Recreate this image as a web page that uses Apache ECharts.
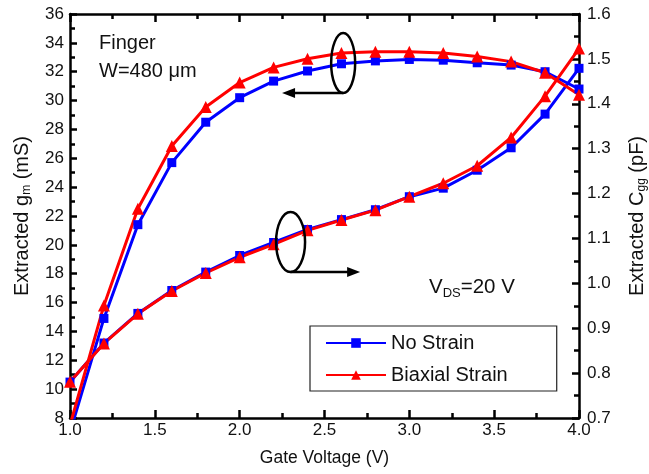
<!DOCTYPE html>
<html>
<head>
<meta charset="utf-8">
<script src="https://cdn.jsdelivr.net/npm/echarts@6/dist/echarts.min.js"></script>
<style>
  html, body { margin: 0; padding: 0; background: #fff; }
  #chart { width: 649px; height: 474px; }
</style>
</head>
<body>
<div id="chart"></div>
<script>
// gate voltage sweep
const gateVoltage = [1.0, 1.2, 1.4, 1.6, 1.8, 2.0, 2.2, 2.4, 2.6, 2.8, 3.0, 3.2, 3.4, 3.6, 3.8, 4.0];

// extracted gm (mS), left axis
const gmNoStrain = [7.0, 14.9, 21.4, 25.7, 28.5, 30.2, 31.35, 32.05, 32.55, 32.75, 32.85, 32.8, 32.62, 32.46, 32.0, 30.8];
const gmBiaxial = [7.5, 15.8, 22.5, 26.85, 29.55, 31.25, 32.3, 32.9, 33.3, 33.38, 33.38, 33.3, 33.05, 32.7, 31.93, 30.4];

// extracted Cgg (pF), right axis
const cggNoStrain = [0.78, 0.867, 0.933, 0.984, 1.025, 1.062, 1.091, 1.12, 1.142, 1.164, 1.193, 1.212, 1.252, 1.302, 1.377, 1.479];
const cggBiaxial = [0.781, 0.866, 0.932, 0.983, 1.023, 1.058, 1.087, 1.118, 1.141, 1.163, 1.193, 1.223, 1.262, 1.325, 1.417, 1.523];

const seriesNames = ['No Strain', 'Biaxial Strain'];

const FONT = 'Liberation Sans, Arial, sans-serif';
const BLUE = '#0000ff';
const RED = '#ff0000';

const chart = echarts.init(document.getElementById('chart'));

function pairs(ys) {
  return gateVoltage.map((x, i) => [x, ys[i]]);
}

function lineSeries(name, ys, yIndex, color, symbol, size) {
  return {
    name: name,
    type: 'line',
    yAxisIndex: yIndex,
    data: pairs(ys),
    symbol: symbol,
    symbolSize: size,
    showSymbol: true,
    lineStyle: { color: color, width: 3 },
    itemStyle: { color: color },
    emphasis: { disabled: true },
    animation: false
  };
}

const label = { fontFamily: FONT, fontSize: 17, color: '#111' };
const tick = { inside: true, length: 7, lineStyle: { width: 2.5, color: '#000' } };
const minor = { show: true, splitNumber: 2, length: 5, lineStyle: { width: 2.5, color: '#000' } };
const axisLine = { show: true, lineStyle: { color: '#000', width: 2.5 } };
const nameStyle = {
  rich: {
    s: { fontFamily: FONT, fontSize: 20, color: '#111' },
    sub: { fontFamily: FONT, fontSize: 12, color: '#111', padding: [0, 0, -9, 0] }
  },
  fontFamily: FONT, fontSize: 20, color: '#111'
};

chart.setOption({
  animation: false,
  grid: { left: 70, right: 70, top: 14, bottom: 56, containLabel: false, outerBoundsMode: 'none' },
  legend: {
    data: seriesNames,
    orient: 'vertical',
    left: 310,
    top: 326,
    borderColor: '#222',
    borderWidth: 1.2,
    padding: [7, 49, 6, 15],
    itemGap: 12,
    itemWidth: 60,
    itemHeight: 12,
    textStyle: { fontFamily: FONT, fontSize: 20, color: '#111' }
  },
  xAxis: [{
    type: 'value',
    min: 1, max: 4, interval: 0.5,
    name: 'Gate Voltage (V)',
    nameLocation: 'middle',
    nameGap: 31,
    nameTextStyle: { fontFamily: FONT, fontSize: 17.5, color: '#111' },
    axisLine: axisLine,
    axisTick: Object.assign({}, tick, { length: 8 }),
    minorTick: minor,
    axisLabel: Object.assign({ margin: 4, formatter: v => v.toFixed(1) }, label),
    splitLine: { show: false }
  }, {
    type: 'value',
    position: 'top',
    min: 1, max: 4, interval: 0.5,
    axisLine: axisLine,
    axisTick: Object.assign({}, tick, { length: 8 }),
    minorTick: minor,
    axisLabel: { show: false },
    splitLine: { show: false }
  }],
  yAxis: [{
    type: 'value',
    min: 8, max: 36, interval: 2,
    name: '{s|Extracted g}{sub|m}{s| (mS)}',
    nameLocation: 'middle',
    nameGap: 38,
    nameRotate: 90,
    nameTextStyle: nameStyle,
    axisLine: axisLine,
    axisTick: tick,
    minorTick: minor,
    axisLabel: Object.assign({ margin: 6 }, label),
    splitLine: { show: false }
  }, {
    type: 'value',
    position: 'right',
    min: 0.7, max: 1.6, interval: 0.1,
    name: '{s|Extracted C}{sub|gg}{s| (pF)}',
    nameLocation: 'middle',
    nameGap: 48,
    nameRotate: 90,
    nameTextStyle: nameStyle,
    axisLine: axisLine,
    axisTick: tick,
    minorTick: minor,
    axisLabel: Object.assign({ margin: 8, formatter: v => v.toFixed(1) }, label),
    splitLine: { show: false }
  }],
  series: [
    lineSeries(seriesNames[0], gmNoStrain, 0, BLUE, 'rect', 9),
    lineSeries(seriesNames[0], cggNoStrain, 1, BLUE, 'rect', 9),
    lineSeries(seriesNames[1], gmBiaxial, 0, RED, 'triangle', 12),
    lineSeries(seriesNames[1], cggBiaxial, 1, RED, 'triangle', 12)
  ]
});

// annotations: ellipses with arrows pointing to the axis each group belongs to
const gmPx = p => chart.convertToPixel({ xAxisIndex: 0, yAxisIndex: 0 }, p);
const cgPx = p => chart.convertToPixel({ xAxisIndex: 0, yAxisIndex: 1 }, p);

function marker(center, rx, ry, tipX, dir) {
  const bottom = center[1] + ry;
  const head = dir < 0
    ? [[tipX, bottom], [tipX + 13, bottom - 5], [tipX + 13, bottom + 5]]
    : [[tipX, bottom], [tipX - 13, bottom - 5], [tipX - 13, bottom + 5]];
  return [
    { type: 'ellipse', shape: { cx: center[0], cy: center[1], rx: rx, ry: ry },
      style: { fill: 'none', stroke: '#000', lineWidth: 2.5 }, z: 100 },
    { type: 'line', shape: { x1: center[0], y1: bottom, x2: tipX - dir * 8, y2: bottom },
      style: { stroke: '#000', lineWidth: 2.5 }, z: 100 },
    { type: 'polygon', shape: { points: head }, style: { fill: '#000' }, z: 100 }
  ];
}

const c1 = gmPx([2.61, 32.6]);
const c2 = cgPx([2.3, 1.092]);
const tip1 = gmPx([2.25, 30])[0];
const tip2 = gmPx([2.71, 30])[0];

const txt = { fontFamily: FONT, fontSize: 20, fill: '#111' };

chart.setOption({
  graphic: [].concat(
    marker(c1, 12, 30, tip1, -1),
    marker(c2, 14.5, 30, tip2, 1),
    [
      { type: 'text', left: 99, top: 33, style: Object.assign({ text: 'Finger' }, txt) },
      { type: 'text', left: 99, top: 61, style: Object.assign({ text: 'W=480 \u03bcm' }, txt) },
      { type: 'text', left: 429, top: 277, style: {
          text: '{a|V}{b|DS}{a|=20 V}',
          rich: {
            a: { fontFamily: FONT, fontSize: 20.5, fill: '#111' },
            b: { fontFamily: FONT, fontSize: 13, fill: '#111', padding: [12, 0, 0, 0] }
          }
        } }
    ]
  )
});
</script>
</body>
</html>
